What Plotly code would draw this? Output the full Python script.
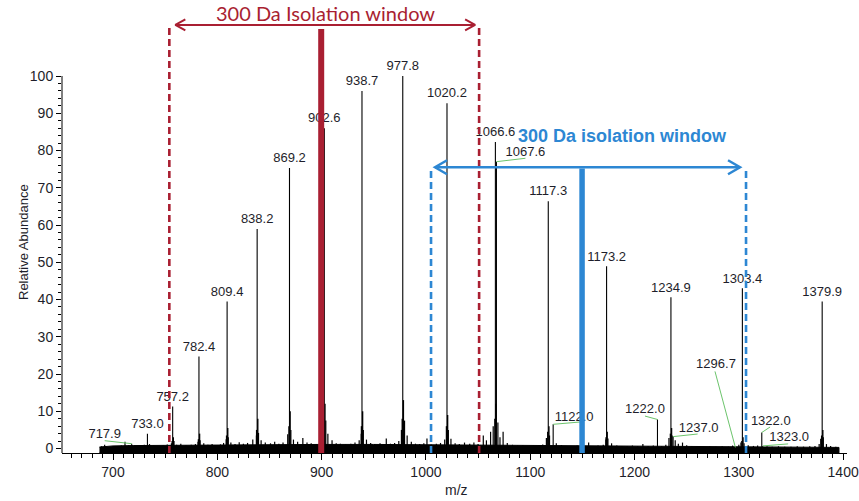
import plotly.graph_objects as go

# ---- spectrum data -------------------------------------------------------
# labelled centroid peaks (m/z, relative abundance %)
peak_mz = [717.9, 733.0, 757.2, 782.4, 809.4, 838.2, 869.2, 902.6, 938.7, 977.8,
           1020.2, 1066.6, 1067.6, 1117.3, 1122.0, 1173.2, 1222.0, 1234.9, 1237.0,
           1296.7, 1303.4, 1322.0, 1323.0, 1379.9]
peak_int = [1.3, 4.0, 11.3, 24.7, 39.5, 58.9, 75.3, 86.0, 96.0, 100.0,
            92.7, 82.3, 77.0, 66.4, 6.5, 48.9, 7.8, 40.6, 3.2,
            0.3, 43.0, 4.3, 0.7, 39.5]

# isotope shoulders hugging the main charge-state peaks
shoulder_mz = [756.7, 757.8, 781.9, 783.0, 808.9, 810.0, 837.7, 838.8, 868.7, 869.8,
               902.1, 903.2, 938.2, 939.3, 977.3, 978.4, 1019.7, 1020.8, 1066.1, 1067.1,
               1116.8, 1117.9, 1172.7, 1173.8, 1234.4, 1235.5, 1302.9, 1304.0, 1379.4, 1380.5]
shoulder_int = [2.0, 3.0, 2.5, 4.0, 3.5, 5.5, 5.0, 8.0, 6.0, 10.0,
                8.0, 12.0, 6.0, 10.0, 8.0, 13.0, 6.0, 9.0, 8.0, 12.0,
                4.5, 6.0, 3.0, 4.5, 4.0, 5.5, 2.0, 3.0, 3.5, 5.0]

# unlabelled minor peaks
minor_mz = [689, 692, 697, 703, 708, 711.5, 715, 721, 726, 730,
            735, 739, 744, 748, 752, 756, 758.5, 761, 765, 770,
            775, 779, 781.5, 783.5, 787, 791, 795, 799, 803, 806,
            808.5, 810.5, 813, 817, 821, 825, 829, 834, 837.5, 839.5,
            842, 846, 851, 855, 859, 863, 867.5, 870.5, 873, 877,
            882, 886, 890, 895, 899, 904, 906, 910, 914, 918,
            923, 928, 932, 936, 938, 940, 943, 947, 951, 956,
            962, 966, 970, 974, 976.5, 979.5, 982, 986, 990, 994,
            998, 1001, 1005, 1010, 1014, 1018, 1021.5, 1024, 1028, 1032,
            1037, 1042, 1046, 1050, 1055, 1058, 1062, 1064.5, 1069, 1071,
            1074, 1078, 1083, 1088, 1093, 1098, 1103, 1108, 1112, 1115.5,
            1118.5, 1125, 1130, 1135, 1140, 1145, 1150, 1156, 1160, 1165,
            1170, 1172.5, 1174.5, 1178, 1183, 1188, 1193, 1198, 1203, 1208,
            1213, 1218, 1226, 1230, 1233, 1236, 1239, 1242, 1246, 1250,
            1255, 1260, 1266, 1272, 1278, 1284, 1290, 1294, 1300, 1302,
            1305, 1309, 1314, 1318, 1327, 1332, 1338, 1344, 1350, 1356,
            1362, 1368, 1373, 1377, 1378.5, 1381, 1384, 1388, 1393]
minor_int = [0.6, 1.0, 0.5, 0.7, 0.8, 1.8, 0.9, 0.7, 0.6, 1.0,
             1.2, 0.8, 0.7, 0.9, 1.1, 1.4, 2.0, 1.0, 1.3, 0.8,
             1.0, 1.2, 1.8, 2.2, 1.4, 1.0, 1.2, 0.9, 1.1, 1.5,
             2.5, 3.0, 1.6, 1.2, 1.7, 1.3, 1.5, 2.4, 3.5, 4.2,
             2.2, 1.6, 1.4, 1.8, 1.3, 1.6, 3.8, 5.0, 2.4, 1.8,
             2.8, 1.6, 1.4, 1.2, 2.0, 7.5, 4.0, 2.2, 1.4, 1.3,
             1.1, 1.3, 1.6, 2.2, 4.0, 5.0, 2.4, 1.5, 1.2, 1.4,
             2.7, 1.3, 1.5, 2.0, 5.0, 7.5, 3.5, 1.8, 1.3, 1.2,
             1.4, 2.7, 1.1, 1.3, 1.5, 2.4, 5.0, 2.6, 1.4, 1.2,
             1.6, 1.3, 1.6, 1.2, 3.5, 2.2, 4.5, 6.0, 7.0, 3.0,
             4.5, 1.5, 1.0, 0.8, 0.9, 0.7, 0.8, 0.9, 1.1, 2.8,
             3.5, 1.4, 0.9, 0.7, 0.6, 0.8, 0.6, 1.6, 0.7, 0.8,
             1.0, 2.4, 2.7, 1.4, 0.8, 0.7, 0.6, 0.8, 0.6, 1.2,
             0.7, 0.8, 0.6, 1.0, 2.8, 3.5, 2.2, 1.3, 1.6, 0.9,
             0.7, 0.6, 0.5, 0.6, 0.5, 0.6, 0.5, 0.8, 1.0, 1.6,
             1.4, 0.9, 0.7, 0.8, 0.6, 0.5, 0.6, 0.5, 0.5, 0.6,
             0.5, 0.6, 0.7, 1.2, 2.6, 3.0, 1.2, 0.7, 0.5]

# chemical noise floor
noise_mz = [687, 700, 720, 760, 800, 850, 900, 950, 1000, 1050, 1100, 1150,
            1200, 1250, 1300, 1350, 1396]
noise_int = [0.4, 0.7, 0.8, 0.9, 1.0, 1.1, 1.1, 1.1, 1.0, 1.0, 0.8, 0.6,
             0.6, 0.5, 0.5, 0.4, 0.3]

x_ticks = [700, 800, 900, 1000, 1100, 1200, 1300, 1400]
y_ticks = [0, 10, 20, 30, 40, 50, 60, 70, 80, 90, 100]

# precursor isolation windows (m/z)
red_center, red_left, red_right = 899.6, 754.0, 1051.0
blue_center, blue_left, blue_right = 1149.7, 1004.9, 1306.9

# ---- layout geometry -----------------------------------------------------
W, H = 859, 501
MARGIN = dict(l=62, r=12, t=0, b=48)
X_RANGE = [651.1, 1403.7]
Y_RANGE = [-1.2, 120.4]
PLOT_W = W - MARGIN["l"] - MARGIN["r"]
PLOT_H = H - MARGIN["t"] - MARGIN["b"]
PXX = PLOT_W / (X_RANGE[1] - X_RANGE[0])
PXY = PLOT_H / (Y_RANGE[1] - Y_RANGE[0])
BASE = Y_RANGE[0]

RED = "#A91F32"
BLUE = "#2D87D3"
GREEN = "#6CC46C"
INK = "#1e1e2a"
ARIAL = "Arial, 'Liberation Sans', sans-serif"

# label placement for peaks whose tag is pulled aside (pixels, y up):
# (leader end dx, dy), (text centre dx, dy)
offset_labels = {
    717.9: ((-27, 3), (-27, 9)),
    1067.6: ((29, 3.4), (29, 9)),
    1122.0: ((27, 2.3), (21, 7)),
    1222.0: ((-12.5, 3.4), (-12.5, 9.4)),
    1237.0: ((24.5, 2.6), (25.5, 7.6)),
    1296.7: ((-20.4, 76), (-19.4, 82.5)),
    1322.0: ((8.3, 5.5), (9, 10.8)),
    1323.0: ((25.3, 2), (26.3, 8)),
}
ABOVE = 9  # px between peak apex and label centre


def sticks(mz, inten):
    xs, ys = [], []
    for m, v in zip(mz, inten):
        xs += [m, m, None]
        ys += [BASE, v, None]
    return xs, ys


def chevron(tip_x, tip_y, direction, arm_px, half_px):
    bx = tip_x + direction * arm_px / PXX
    return [bx, tip_x, bx], [tip_y + half_px / PXY, tip_y, tip_y - half_px / PXY]


def add_lines(xs, ys, color, width, dash=None):
    fig.add_trace(go.Scatter(x=xs, y=ys, mode="lines",
                             line=dict(color=color, width=width, dash=dash),
                             hoverinfo="skip", showlegend=False))


fig = go.Figure()

# noise floor band
fig.add_trace(go.Scatter(
    x=noise_mz + noise_mz[::-1], y=noise_int + [BASE] * len(noise_mz),
    fill="toself", fillcolor="black", line=dict(color="black", width=1),
    mode="lines", hoverinfo="skip", showlegend=False))

add_lines(*sticks(minor_mz, minor_int), "black", 1.2)
add_lines(*sticks(shoulder_mz, shoulder_int), "black", 1.4)
add_lines(*sticks(peak_mz, peak_int), "black", 1.1)

# peak labels and green leader lines
lab_x, lab_y, lab_t = [], [], []
lead_x, lead_y = [], []
for m, v in zip(peak_mz, peak_int):
    if m in offset_labels:
        (ldx, ldy), (tdx, tdy) = offset_labels[m]
        lead_x += [m, m + ldx / PXX, None]
        lead_y += [v, v + ldy / PXY, None]
        lab_x.append(m + tdx / PXX)
        lab_y.append(v + tdy / PXY)
    else:
        lab_x.append(m)
        lab_y.append(v + ABOVE / PXY)
    lab_t.append(f"{m:.1f}")

add_lines(lead_x, lead_y, GREEN, 1)
fig.add_trace(go.Scatter(x=lab_x, y=lab_y, text=lab_t, mode="text",
                         textposition="middle center",
                         textfont=dict(family=ARIAL, size=13, color=INK),
                         cliponaxis=False, hoverinfo="skip", showlegend=False))


def window(color, center, left, right, top, bar_top, arrow_y, bar_w,
           arrow_w, inset, arm, half):
    # dashed window edges
    for xe in (left, right):
        add_lines([xe, xe], [BASE, top], color, 2.6, "7px,4px")
    # precursor marker
    add_lines([center, center], [BASE, bar_top], color, bar_w)
    # double-headed arrow
    l_tip = left + inset[0] / PXX
    r_tip = right - inset[1] / PXX
    cx1, cy1 = chevron(l_tip, arrow_y, 1, arm, half)
    cx2, cy2 = chevron(r_tip, arrow_y, -1, arm, half)
    add_lines([l_tip, r_tip, None] + cx1 + [None] + cx2,
              [arrow_y, arrow_y, None] + cy1 + [None] + cy2, color, arrow_w)


window(RED, red_center, red_left, red_right, top=113.0, bar_top=112.6,
       arrow_y=113.7, bar_w=6, arrow_w=2, inset=(6, 4), arm=10, half=5.5)
window(BLUE, blue_center, blue_left, blue_right, top=75.5, bar_top=75.2,
       arrow_y=75.5, bar_w=5.5, arrow_w=2.5, inset=(4, 6), arm=12, half=7)

annotations = [
    dict(x=903.3, y=116.8, xref="x", yref="y", text="300 Da Isolation window",
         xanchor="center", yanchor="middle", showarrow=False,
         font=dict(family="Lato, 'Open Sans', sans-serif", size=20, color=RED)),
    dict(x=1188.0, y=83.8, xref="x", yref="y", text="<b>300 Da isolation window</b>",
         xanchor="center", yanchor="middle", showarrow=False,
         font=dict(family=ARIAL, size=18, color=BLUE)),
    dict(x=(24 - MARGIN["l"]) / PLOT_W, y=1 - 242 / PLOT_H, xref="paper", yref="paper",
         text="Relative Abundance", textangle=-90, showarrow=False,
         xanchor="center", yanchor="middle",
         font=dict(family=ARIAL, size=13, color=INK)),
    dict(x=(456 - MARGIN["l"]) / PLOT_W, y=1 - 490 / PLOT_H, xref="paper", yref="paper",
         text="m/z", showarrow=False, xanchor="center", yanchor="middle",
         font=dict(family=ARIAL, size=14, color=INK)),
]

minor_y = [v for v in range(2, 100, 2) if v % 10]

fig.update_layout(
    width=W, height=H, margin=MARGIN,
    paper_bgcolor="white", plot_bgcolor="white",
    showlegend=False, hovermode=False,
    annotations=annotations,
    shapes=[dict(type="line", xref="paper", yref="y", x0=0, x1=0,
                 y0=BASE, y1=100, line=dict(color="black", width=1))],
    xaxis=dict(range=X_RANGE, showgrid=False, zeroline=False,
               showline=True, linecolor="black", linewidth=1,
               tickmode="array", tickvals=x_ticks, ticks="outside",
               ticklen=6, tickcolor="black",
               tickfont=dict(family=ARIAL, size=14, color=INK),
               minor=dict(dtick=10, tick0=700, ticks="outside", ticklen=3.5,
                          tickcolor="black")),
    yaxis=dict(range=Y_RANGE, showgrid=False, zeroline=False, showline=False,
               tickmode="array", tickvals=y_ticks, ticks="outside",
               ticklen=5, tickcolor="black",
               tickfont=dict(family=ARIAL, size=14, color=INK),
               minor=dict(tickmode="array", tickvals=minor_y, ticks="outside",
                          ticklen=3, tickcolor="black")),
)

fig.write_html("out.html")
